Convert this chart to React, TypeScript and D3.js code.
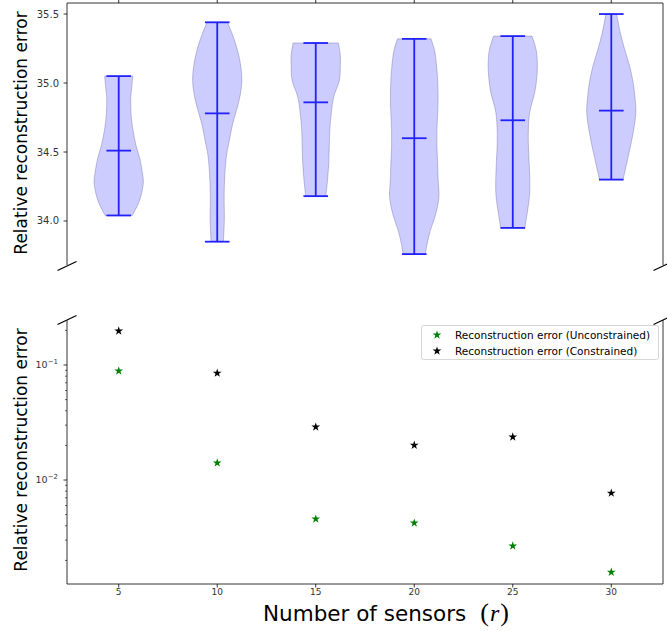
import React from "react";
import * as d3 from "d3";

// ---------- data ----------
const sensors = [5, 10, 15, 20, 25, 30];
const unconstrained = [0.0887, 0.0141, 0.00458, 0.00423, 0.00267, 0.00158];
const constrained = [0.198, 0.085, 0.0289, 0.0201, 0.0237, 0.0077];

const violinMin = [34.04, 33.85, 34.18, 33.76, 33.95, 34.3];
const violinMax = [35.05, 35.44, 35.29, 35.32, 35.34, 35.5];
const violinMean = [34.51, 34.78, 34.86, 34.6, 34.73, 34.8];

// density profiles: [value, relative half width]
const profile5 = [[34.04, 0.55], [34.12, 0.78], [34.18, 0.9], [34.28, 1.0], [34.35, 0.96], [34.45, 0.86], [34.55, 0.7], [34.68, 0.56], [34.78, 0.5], [34.9, 0.49], [34.95, 0.52], [35.05, 0.57]];
const profile10 = [[33.85, 0.25], [33.96, 0.28], [34.04, 0.29], [34.15, 0.28], [34.26, 0.29], [34.39, 0.33], [34.48, 0.38], [34.59, 0.5], [34.7, 0.62], [34.8, 0.78], [34.91, 0.93], [35.02, 1.0], [35.13, 0.95], [35.24, 0.82], [35.35, 0.62], [35.44, 0.41]];
const profile15 = [[34.18, 0.41], [34.3, 0.48], [34.42, 0.53], [34.54, 0.55], [34.66, 0.57], [34.78, 0.63], [34.9, 0.73], [35.02, 0.96], [35.14, 1.0], [35.2, 1.0], [35.29, 0.92]];
const profile20 = [[33.76, 0.45], [33.84, 0.53], [33.93, 0.65], [34.03, 0.84], [34.17, 1.0], [34.3, 0.97], [34.42, 0.95], [34.54, 0.92], [34.66, 0.92], [34.78, 0.95], [34.9, 0.97], [35.02, 0.95], [35.14, 0.9], [35.24, 0.82], [35.32, 0.68]];
const profile25 = [[33.95, 0.49], [34.04, 0.57], [34.12, 0.64], [34.21, 0.69], [34.31, 0.69], [34.41, 0.67], [34.52, 0.64], [34.64, 0.63], [34.79, 0.69], [34.93, 0.89], [35.03, 0.97], [35.13, 1.0], [35.24, 0.95], [35.34, 0.78]];
const profile30 = [[34.3, 0.48], [34.38, 0.58], [34.46, 0.68], [34.55, 0.79], [34.64, 0.89], [34.72, 0.96], [34.8, 1.0], [34.88, 0.97], [34.99, 0.9], [35.12, 0.75], [35.24, 0.55], [35.36, 0.37], [35.5, 0.22]];
const profiles = [profile5, profile10, profile15, profile20, profile25, profile30];

const topTicks = [34.0, 34.5, 35.0, 35.5];
const bottomMajor = [-1, -2];
const legendLabels = ["Reconstruction error (Unconstrained)", "Reconstruction error (Constrained)"];
const xLabel = "Number of sensors";
const yLabel = "Relative reconstruction error";

// ---------- layout ----------
const W = 667, H = 631;
const L = 67, R = 663;
const topT = 3, topB = 265;
const botT = 320, botB = 584;
const violinWidth = 2.5;

const x = d3.scaleLinear().domain([2.375, 32.625]).range([L, R]);
const yTop = d3.scaleLinear().domain([33.681, 35.58]).range([topB, topT]);
const yBot = d3.scaleLog().domain([Math.pow(10, -2.904), Math.pow(10, -0.6087)]).range([botB, botT]);

const FONT = "DejaVu Sans, sans-serif";
const LINE = "#2222ff";

function starPath(size: number) {
  return d3.symbol().type(d3.symbolStar).size(size)() as string;
}

export default function App() {
  const area = d3
    .area<number[]>()
    .y((d) => yTop(d[0]))
    .curve(d3.curveCatmullRom);

  const minorTicks: number[] = [];
  for (let e = -3; e <= -1; e++) {
    for (let m = 2; m <= 9; m++) {
      const v = m * Math.pow(10, e);
      const [a, b] = yBot.domain();
      if (v >= a && v <= b) minorTicks.push(v);
    }
  }

  const star = starPath(24);
  const half = (violinWidth / 2) * (x(1) - x(0));
  const cap = (violinWidth / 4) * (x(1) - x(0));

  const breakMark = (cx: number, cy: number, k: string) => (
    <line key={k} x1={cx - 9.5} y1={cy + 4.5} x2={cx + 9.5} y2={cy - 4.5} stroke="#000" strokeWidth={1.2} />
  );

  return (
    <svg width={W} height={H} style={{ position: "absolute", left: 0, top: 0 }} fontFamily={FONT}>
      <rect x={0} y={0} width={W} height={H} fill="#fff" />

      {/* ---------- top panel ---------- */}
      {profiles.map((p, i) => {
        const cx = x(sensors[i]);
        const a = area.x0((d) => cx - d[1] * half).x1((d) => cx + d[1] * half);
        return (
          <path key={"v" + i} d={a(p) as string} fill="rgb(204,204,255)" stroke="rgba(90,90,150,0.35)" strokeWidth={1} />
        );
      })}
      {sensors.map((s, i) => {
        const cx = x(s);
        return (
          <g key={"vl" + i} stroke={LINE} strokeWidth={1.8}>
            <line x1={cx} x2={cx} y1={yTop(violinMin[i])} y2={yTop(violinMax[i])} />
            <line x1={cx - cap} x2={cx + cap} y1={yTop(violinMin[i])} y2={yTop(violinMin[i])} />
            <line x1={cx - cap} x2={cx + cap} y1={yTop(violinMax[i])} y2={yTop(violinMax[i])} />
            <line x1={cx - cap} x2={cx + cap} y1={yTop(violinMean[i])} y2={yTop(violinMean[i])} />
          </g>
        );
      })}
      {/* spines top */}
      <line x1={L} x2={R} y1={topT} y2={topT} stroke="#000" strokeWidth={0.8} />
      <line x1={L} x2={L} y1={topT} y2={topB} stroke="#000" strokeWidth={0.8} />
      <line x1={R} x2={R} y1={topT} y2={topB} stroke="#000" strokeWidth={0.8} />
      {sensors.map((s) => (
        <line key={"tt" + s} x1={x(s)} x2={x(s)} y1={topT} y2={topT - 3.5} stroke="#000" strokeWidth={0.8} />
      ))}
      {topTicks.map((t) => (
        <g key={"yt" + t}>
          <line x1={L - 3.5} x2={L} y1={yTop(t)} y2={yTop(t)} stroke="#000" strokeWidth={0.8} />
          <text x={L - 8} y={yTop(t)} dy="0.35em" textAnchor="end" fontSize={10} fill="#333">
            {t.toFixed(1)}
          </text>
        </g>
      ))}
      <text transform={`translate(${27},${(topT + topB) / 2 - 1}) rotate(-90)`} textAnchor="middle" fontSize={17} fill="#000">
        {yLabel}
      </text>

      {/* ---------- bottom panel ---------- */}
      <line x1={L} x2={L} y1={botT} y2={botB} stroke="#000" strokeWidth={0.8} />
      <line x1={R} x2={R} y1={botT} y2={botB} stroke="#000" strokeWidth={0.8} />
      <line x1={L} x2={R} y1={botB} y2={botB} stroke="#000" strokeWidth={0.8} />
      {minorTicks.map((t, i) => (
        <line key={"mt" + i} x1={L - 2} x2={L} y1={yBot(t)} y2={yBot(t)} stroke="#000" strokeWidth={0.6} />
      ))}
      {bottomMajor.map((e) => (
        <g key={"bm" + e}>
          <line x1={L - 3.5} x2={L} y1={yBot(Math.pow(10, e))} y2={yBot(Math.pow(10, e))} stroke="#000" strokeWidth={0.8} />
          <text x={L - 9} y={yBot(Math.pow(10, e))} dy="0.35em" textAnchor="end" fontSize={9.5} fill="#333">
            10
            <tspan dy={-4} fontSize={7}>
              {"\u2212" + Math.abs(e)}
            </tspan>
          </text>
        </g>
      ))}
      {sensors.map((s) => (
        <g key={"xt" + s}>
          <line x1={x(s)} x2={x(s)} y1={botB} y2={botB + 3.5} stroke="#000" strokeWidth={0.8} />
          <text x={x(s)} y={botB + 11} textAnchor="middle" fontSize={9} fill="#333">
            {s}
          </text>
        </g>
      ))}
      {sensors.map((s, i) => (
        <path key={"g" + i} d={star} transform={`translate(${x(s)},${yBot(unconstrained[i])})`} fill="green" />
      ))}
      {sensors.map((s, i) => (
        <path key={"k" + i} d={star} transform={`translate(${x(s)},${yBot(constrained[i])})`} fill="#000" />
      ))}
      <text transform={`translate(${27},${(botT + botB) / 2 - 2}) rotate(-90)`} textAnchor="middle" fontSize={17} fill="#000">
        {yLabel}
      </text>

      {/* legend */}
      <rect x={421.5} y={325.5} width={237} height={34} rx={2} fill="#fff" stroke="#ccc" strokeWidth={0.8} />
      {legendLabels.map((lab, i) => (
        <g key={"lg" + i}>
          <path d={star} transform={`translate(${437},${335 + i * 16})`} fill={i === 0 ? "green" : "#000"} />
          <text x={455} y={335 + i * 16} dy="0.35em" fontSize={10.5} fill="#000">
            {lab}
          </text>
        </g>
      ))}

      {/* break marks */}
      {breakMark(L, topB + 1, "b1")}
      {breakMark(R, topB + 1, "b2")}
      {breakMark(L, botT, "b3")}
      {breakMark(R, botT, "b4")}

      {/* x label */}
      <text x={263} y={621} fontSize={21.5} fill="#000">
        {xLabel}
        <tspan dx={14} fontFamily="Liberation Serif, serif" fontSize={26}>(</tspan>
        <tspan dx={1} fontFamily="Liberation Serif, serif" fontStyle="italic" fontSize={24}>r</tspan>
        <tspan dx={1} fontFamily="Liberation Serif, serif" fontSize={26}>)</tspan>
      </text>
    </svg>
  );
}
